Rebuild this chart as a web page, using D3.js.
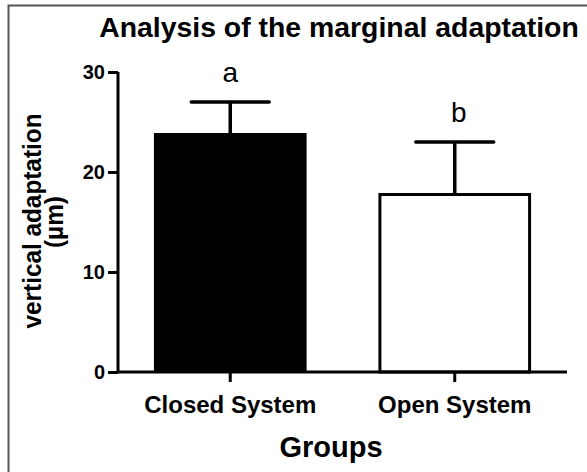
<!DOCTYPE html>
<html><head><meta charset="utf-8">
<script src="https://cdn.jsdelivr.net/npm/d3@7"></script>
<style>body{margin:0;background:#fff}svg{display:block}text{font-family:"Liberation Sans",Arial,sans-serif}</style>
</head><body>
<svg id="c" width="587" height="472"></svg>
<script>
const categories = ["Closed System", "Open System"];
const means = [23.9, 17.9];
const sds = [3.1, 5.1];
const letters = ["a", "b"];
const yTicks = [0, 10, 20, 30];
const fills = ["#000", "#fff"];

const svg = d3.select("#c");
svg.append("rect").attr("x",0).attr("y",0).attr("width",587).attr("height",472).attr("fill","#fff");
svg.append("path").attr("d","M8.5,472V5.5H587").attr("fill","none").attr("stroke","#555").attr("stroke-width",2);

const x = d3.scaleBand().domain(categories).range([118, 567]).paddingInner(0.32).paddingOuter(0.16);
const y = d3.scaleLinear().domain([0, 30]).range([372, 72]);

// bars
svg.selectAll("rect.bar").data(categories).enter().append("rect")
  .attr("class","bar")
  .attr("x", (d,i) => x(d) + (i ? 1.5 : 0))
  .attr("y", (d,i) => y(means[i]) + (i ? 1.5 : 0))
  .attr("width", (d,i) => x.bandwidth() - (i ? 3 : 0))
  .attr("height", (d,i) => y(0) - y(means[i]) - (i ? 1.5 : 0))
  .attr("fill", (d,i) => fills[i])
  .attr("stroke", "#000").attr("stroke-width", (d,i) => i ? 3 : 0);

// error bars
const cx = d => x(d) + x.bandwidth()/2;
categories.forEach((d,i) => {
  svg.append("line").attr("x1",cx(d)).attr("x2",cx(d)).attr("y1",y(means[i])).attr("y2",y(means[i]+sds[i]))
    .attr("stroke","#000").attr("stroke-width",3.5);
  svg.append("line").attr("x1",cx(d)-39).attr("x2",cx(d)+39).attr("y1",y(means[i]+sds[i])).attr("y2",y(means[i]+sds[i]))
    .attr("stroke","#000").attr("stroke-width",3.5).attr("stroke-linecap","round");
  svg.append("text").attr("x",cx(d)+(i?4:0)).attr("y",y(means[i]+sds[i]) - 20).attr("text-anchor","middle")
    .attr("font-size",28).text(letters[i]);
});

// axes
const yAxis = d3.axisLeft(y).tickValues(yTicks).tickSize(10).tickSizeOuter(0).tickPadding(3);
const gy = svg.append("g").attr("transform","translate(118,0)").call(yAxis);
const xAxis = d3.axisBottom(x).tickSize(10).tickSizeOuter(0).tickPadding(14);
const gx = svg.append("g").attr("transform","translate(0,372)").call(xAxis);
[gy, gx].forEach(g => {
  g.select(".domain").attr("stroke","#000").attr("stroke-width",3);
  g.selectAll(".tick line").attr("stroke","#000").attr("stroke-width",3);
  g.selectAll("text").attr("fill","#000").attr("font-weight","bold").attr("font-family","Liberation Sans, Arial, sans-serif");
});
gy.selectAll("text").attr("font-size",20);
gx.selectAll("text").attr("font-size",24);
gx.select(".domain").attr("d","M118,0H567");
gy.select(".domain").attr("d","M0,372V72");

// titles
svg.append("text").attr("x",339).attr("y",37).attr("text-anchor","middle").attr("font-size",28.4).attr("font-weight","bold").text("Analysis of the marginal adaptation");
svg.append("text").attr("x",331).attr("y",457).attr("text-anchor","middle").attr("font-size",29).attr("font-weight","bold").text("Groups");
const yl = svg.append("g").attr("transform","rotate(-90)").attr("font-size",25).attr("font-weight","bold");
yl.append("text").attr("x",-221).attr("y",41).attr("text-anchor","middle")
  .attr("textLength",215).attr("lengthAdjust","spacingAndGlyphs").text("vertical adaptation");
yl.append("text").attr("x",-222).attr("y",63).attr("text-anchor","middle")
  .attr("textLength",52).attr("lengthAdjust","spacingAndGlyphs").text("(µm)");
</script>
</body></html>
